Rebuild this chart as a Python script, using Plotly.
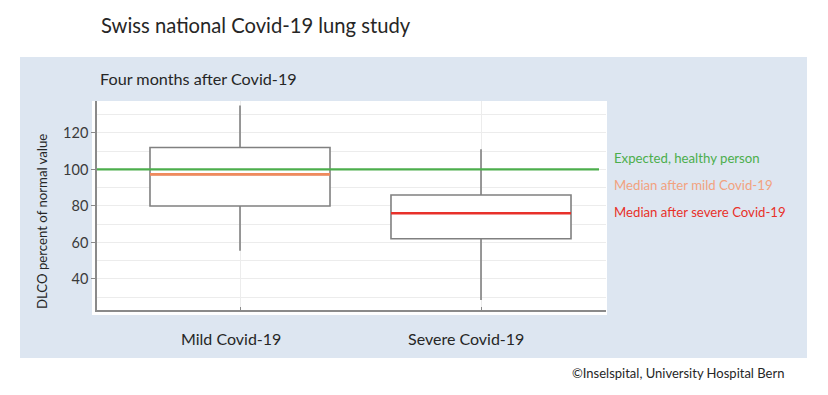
import plotly.graph_objects as go

# ---- data ----
categories = ["Mild Covid-19", "Severe Covid-19"]
q1 = [80, 62]
median = [97.3, 76]
q3 = [112, 86]
lower_whisker = [55.5, 28.5]
upper_whisker = [135, 111]
expected_value = 100
median_colors = ["#f08a5d", "#e8312a"]
y_tick_vals = [40, 60, 80, 100, 120]

W, H = 828, 395
L, R, T, B = 97, 606, 101, 310  # plot area pixels
box_w = 0.747
x_pos = list(range(len(categories)))

def px(x):
    return (x - L) / (R - L)

def py(y):
    return (B - y) / (B - T)

font = "Lato, Carlito, 'Open Sans', sans-serif"
fig = go.Figure()

for i, c in enumerate(categories):
    fig.add_trace(go.Box(
        x=[x_pos[i]], q1=[q1[i]], median=[median[i]], q3=[q3[i]],
        lowerfence=[lower_whisker[i]], upperfence=[upper_whisker[i]],
        width=box_w, fillcolor="white",
        line=dict(color="#808080", width=1.6),
        whiskerwidth=0, showlegend=False, hoverinfo="skip", name=c,
    ))

# expected line
fig.add_shape(type="line", xref="paper", yref="y", x0=0, x1=px(599),
              y0=expected_value, y1=expected_value,
              line=dict(color="#4cae4c", width=2.2), layer="above")

# coloured medians
for i in range(len(categories)):
    fig.add_trace(go.Scatter(
        x=[x_pos[i] - box_w / 2, x_pos[i] + box_w / 2], y=[median[i], median[i]],
        mode="lines", line=dict(color=median_colors[i], width=2.6),
        showlegend=False, hoverinfo="skip",
    ))

# background panel and white plot backing
fig.add_shape(type="rect", xref="paper", yref="paper", layer="below",
              x0=px(20), x1=px(807), y0=py(358), y1=py(57),
              fillcolor="#dde6f1", line=dict(width=0))
fig.add_shape(type="rect", xref="paper", yref="paper", layer="below",
              x0=px(92), x1=px(607), y0=py(315), y1=py(101),
              fillcolor="white", line=dict(width=0))

def ann(text, x, y, size, color="#262626", xanchor="left", angle=0):
    fig.add_annotation(text=text, xref="paper", yref="paper", x=px(x), y=py(y),
                       xanchor=xanchor, yanchor="middle", showarrow=False,
                       textangle=angle, font=dict(family=font, size=size, color=color))

ann("Swiss national Covid-19 lung study", 99, 25, 20.2)
ann("Four months after Covid-19", 98, 78, 16.2)
ann("DLCO percent of normal value", 42, 222, 13.2, angle=-90, xanchor="center")
ann(categories[0], 231, 338, 16, xanchor="center")
ann(categories[1], 466, 338, 16, xanchor="center")
ann("Expected, healthy person", 612, 158, 13.2, color="#4cae4c")
ann("Median after mild Covid-19", 612, 185, 13.2, color="#f2a27f")
ann("Median after severe Covid-19", 612, 212, 13.2, color="#e8312a")
ann("©Inselspital, University Hospital Bern", 570, 373, 13)

spacing = 241
fig.update_layout(
    width=W, height=H,
    margin=dict(l=L, r=W - R, t=T, b=H - B, pad=0),
    paper_bgcolor="white", plot_bgcolor="white",
    xaxis=dict(range=[-(240 - L) / spacing, 1 + (R - 481) / spacing],
               tickvals=x_pos, ticktext=["", ""], showgrid=True,
               gridcolor="#ececec", gridwidth=1, zeroline=False,
               showline=True, linecolor="#8a8a8a", linewidth=1.6,
               ticks="inside", ticklen=3, tickcolor="#8a8a8a", fixedrange=True),
    yaxis=dict(range=[23, 137.5], tickvals=y_tick_vals, showgrid=True,
               gridcolor="#ececec", gridwidth=1, zeroline=False,
               showline=True, linecolor="#8a8a8a", linewidth=1.6,
               ticks="outside", ticklen=4, tickcolor="#8a8a8a",
               tickfont=dict(family=font, size=14.5, color="#3a3a3a"),
               minor=dict(dtick=10, tick0=0, showgrid=True, gridcolor="#ececec"),
               fixedrange=True),
    showlegend=False,
)

fig.write_html("out.html", config={"displayModeBar": False},
               post_script="document.body.style.margin='0';")
